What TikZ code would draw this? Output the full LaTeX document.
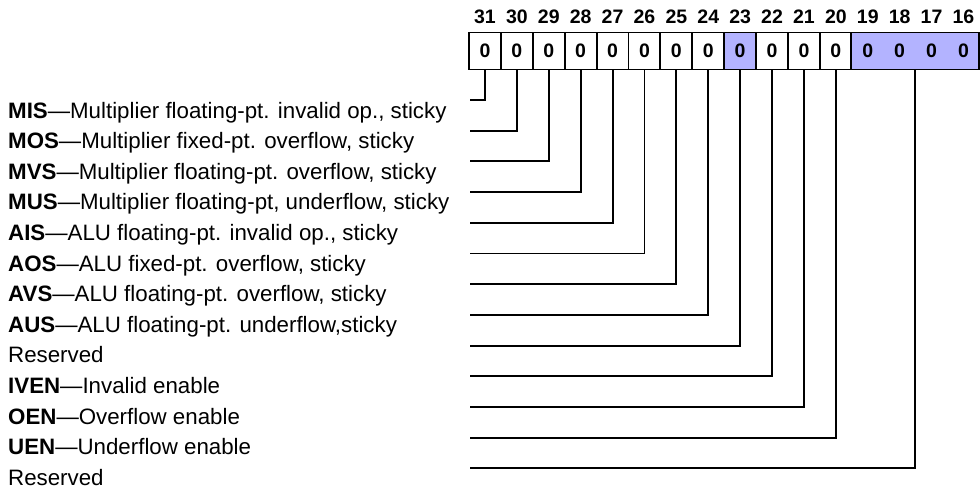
\documentclass[tikz,border=0pt]{standalone}
\usepackage{fontspec}
\setmainfont{Liberation Sans}
\definecolor{fieldblue}{RGB}{179,179,255}
\tikzset{
  bitcell/.style={draw, line width=1.9pt, minimum width=31.9pt, minimum height=37pt,
    inner sep=0pt, font=\fontsize{19.5}{19.5}\selectfont\bfseries},
  bitnum/.style={inner sep=0pt, font=\fontsize{19.5}{19.5}\selectfont\bfseries},
  flaglabel/.style={anchor=base west, inner sep=0pt, font=\fontsize{22.3}{22.3}\selectfont},
  leader/.style={line width=1.9pt},
}
\begin{document}
\begin{tikzpicture}[x=1pt,y=-1pt]
  \useasboundingbox (0,0) rectangle (980,490);
  % register cells, bits 31..20
  \foreach \b/\f in {31/white,30/white,29/white,28/white,27/white,26/white,25/white,
      24/white,23/fieldblue,22/white,21/white,20/white} {
    \node[bitcell, fill=\f] (c\b) at ({484.95+31.9*(31-\b)},51) {0};
    \node[bitnum] (n\b) at (c\b |- 0,17) {\b};
  }
  % bits 19..16, one field
  \node[bitcell, fill=fieldblue, minimum width=127.6pt] (cg) at (915.2,51) {};
  \foreach \b in {19,...,16} {
    \node[bitnum] (z\b) at ({484.95+31.9*(31-\b)},51) {0};
    \node[bitnum] (n\b) at (z\b |- 0,17) {\b};
  }
  % flag names and leaders
  \foreach \b/\txt [count=\i from 0] in {
      31/{\textbf{MIS}---Multiplier floating-pt. invalid op., sticky},
      30/{\textbf{MOS}---Multiplier fixed-pt. overflow, sticky},
      29/{\textbf{MVS}---Multiplier floating-pt. overflow, sticky},
      28/{\textbf{MUS}---Multiplier floating-pt, underflow, sticky},
      27/{\textbf{AIS}---ALU floating-pt. invalid op., sticky},
      26/{\textbf{AOS}---ALU fixed-pt. overflow, sticky},
      25/{\textbf{AVS}---ALU floating-pt. overflow, sticky},
      24/{\textbf{AUS}---ALU floating-pt. underflow,sticky},
      23/{Reserved},
      22/{\textbf{IVEN}---Invalid enable},
      21/{\textbf{OEN}---Overflow enable},
      20/{\textbf{UEN}---Underflow enable},
      g/{Reserved}} {
    \coordinate (e\b) at (470,{100+30.7*\i});
    \node[flaglabel] (l\b) at (8,{118+30.6*\i}) {\txt};
    \draw[leader] (c\b.south) |- (e\b);
  }
\end{tikzpicture}
\end{document}
